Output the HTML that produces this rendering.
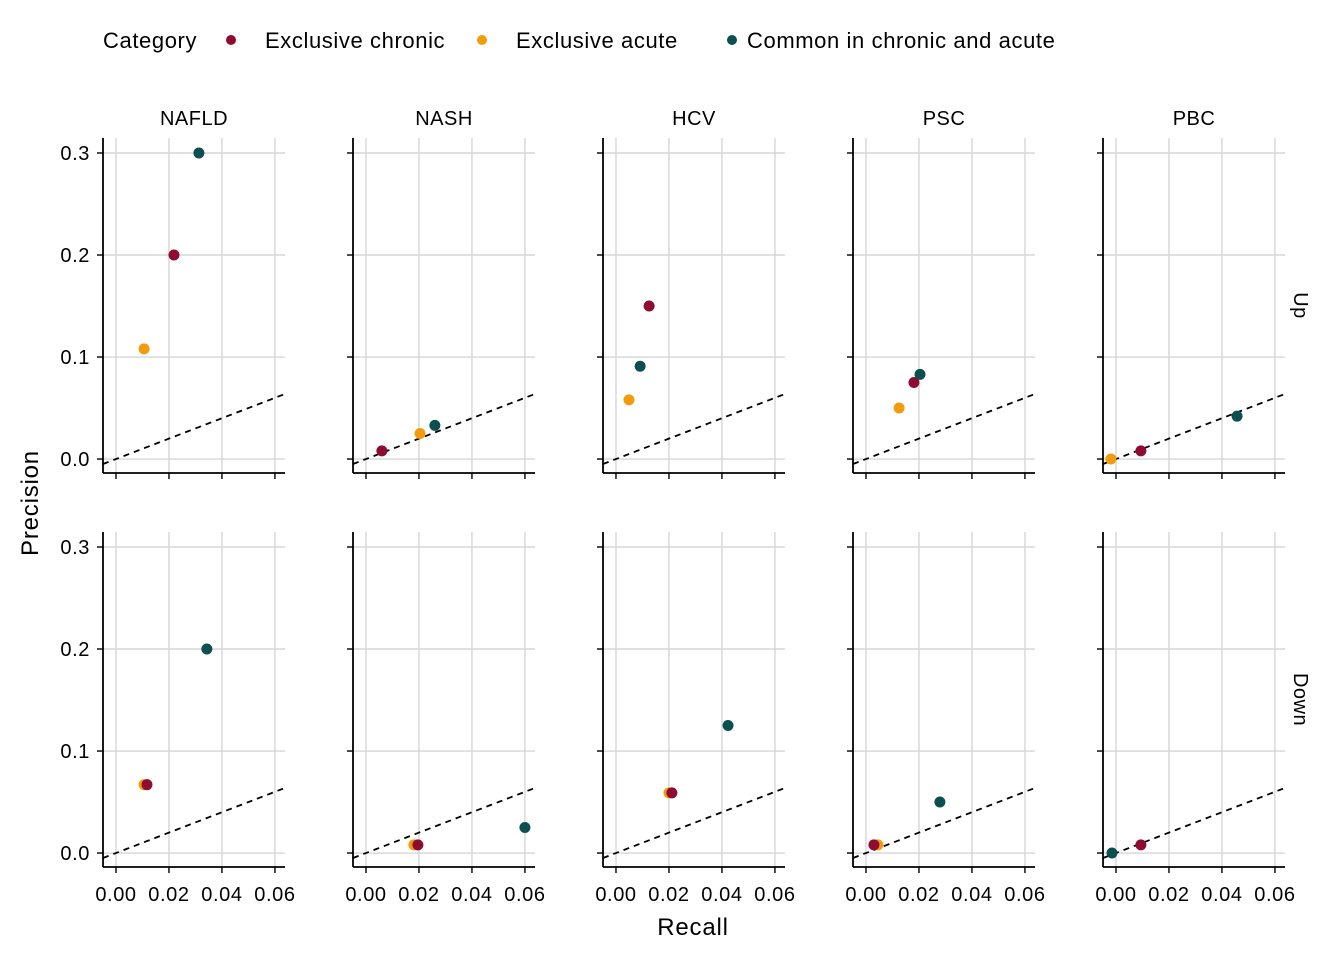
<!DOCTYPE html>
<html><head><meta charset="utf-8">
<style>
html,body{margin:0;padding:0;background:#fff;}
svg{display:block;font-family:"Liberation Sans",Arial,sans-serif;}
</style></head>
<body>
<svg id="chart" width="1344" height="960" viewBox="0 0 1344 960" xmlns="http://www.w3.org/2000/svg">
<g font-size="22" letter-spacing="0.6">
<text x="103" y="48">Category</text>
<circle cx="231" cy="40" r="5" fill="#8E0C32"/>
<text x="265" y="48">Exclusive chronic</text>
<circle cx="482" cy="40" r="5" fill="#F29B0C"/>
<text x="516" y="48">Exclusive acute</text>
<circle cx="732" cy="40" r="5" fill="#0C4F50"/>
<text x="747" y="48">Common in chronic and acute</text>
</g>
<text x="693" y="935" font-size="24" letter-spacing="0.8" text-anchor="middle">Recall</text>
<text transform="translate(38,503) rotate(-90)" font-size="24" letter-spacing="0.8" text-anchor="middle">Precision</text>
<g id="panels"></g>
</svg>
<script>
const diseases = ["NAFLD","NASH","HCV","PSC","PBC"];
const directions = ["Up","Down"];
const categories = ["Exclusive acute","Exclusive chronic","Common in chronic and acute"];
const xTicks = [0,0.02,0.04,0.06];
const xTickLabels = ["0.00","0.02","0.04","0.06"];
const yTicks = [0,0.1,0.2,0.3];
const yTickLabels = ["0.0","0.1","0.2","0.3"];
const recallUp = [[0.0106,0.0219,0.0313],[0.0204,0.006,0.026],[0.0049,0.0125,0.0091],[0.0125,0.0181,0.0204],[-0.0019,0.0094,0.0457]];
const precisionUp = [[0.108,0.2,0.3],[0.025,0.008,0.033],[0.058,0.15,0.091],[0.05,0.075,0.083],[0,0.008,0.042]];
const recallDown = [[0.0106,0.0117,0.0343],[0.0181,0.0196,0.06],[0.02,0.0211,0.0423],[0.0045,0.003,0.0279],[null,0.0094,-0.0015]];
const precisionDown = [[0.067,0.067,0.2],[0.008,0.008,0.025],[0.059,0.059,0.125],[0.008,0.008,0.05],[null,0.008,0]];
const colors = ["#F29B0C","#8E0C32","#0C4F50"];

const NS="http://www.w3.org/2000/svg";
const g=document.getElementById('panels');
function mk(tag,attrs,parent){const e=document.createElementNS(NS,tag);for(const k in attrs)e.setAttribute(k,attrs[k]);(parent||g).appendChild(e);return e;}
const xMin=-0.0049,xMax=0.0638,pw=182;
const yMin=-0.0137,yMax=0.3147;
const rowTop=[138,532],ph=335;
function sx(c,v){return 103+c*250+(v-xMin)/(xMax-xMin)*pw;}
function sy(r,v){return rowTop[r]+ph-(v-yMin)/(yMax-yMin)*ph;}

directions.forEach((dir,r)=>{
  const R=r===0?recallUp:recallDown, P=r===0?precisionUp:precisionDown;
  diseases.forEach((d,c)=>{
    const pg=mk('g',{});
    
    
    const L=103+c*250, B=rowTop[r]+ph;
    xTicks.forEach((t,i)=>{
      const x=sx(c,t);
      const gl=mk('line',{x1:x,x2:x,y1:rowTop[r],y2:B,stroke:'#d6d6d6','stroke-width':1.4},pg);
      
      
      mk('line',{x1:x,x2:x,y1:B,y2:B+6,stroke:'#000','stroke-width':1.4},pg);
      if(r===1){
        const tl=mk('text',{x:x,y:B+34,'font-size':20,'letter-spacing':0.6,'text-anchor':'middle'},pg);
        tl.textContent=xTickLabels[i];
        
        
      }
    });
    yTicks.forEach((t,i)=>{
      const y=sy(r,t);
      const gl=mk('line',{x1:L,x2:L+pw,y1:y,y2:y,stroke:'#d6d6d6','stroke-width':1.4},pg);
      
      
      mk('line',{x1:L-6,x2:L,y1:y,y2:y,stroke:'#000','stroke-width':1.4},pg);
      if(c===0){
        const tl=mk('text',{x:L-13,y:y+7,'font-size':20,'letter-spacing':0.6,'text-anchor':'end'},pg);
        tl.textContent=yTickLabels[i];
        
        
      }
    });
    const dl=mk('line',{x1:sx(c,xMin),y1:sy(r,xMin),x2:sx(c,xMax),y2:sy(r,xMax),stroke:'#000','stroke-width':1.8,'stroke-dasharray':'6,5'},pg);
    
    
    mk('line',{x1:L,x2:L,y1:rowTop[r],y2:B,stroke:'#000','stroke-width':1.8},pg);
    mk('line',{x1:L,x2:L+pw,y1:B,y2:B,stroke:'#000','stroke-width':1.8},pg);
    categories.forEach((cat,k)=>{
      if(R[c][k]===null)return;
      const pt=mk('circle',{cx:sx(c,R[c][k]),cy:sy(r,P[c][k]),r:5.5,fill:colors[k]},pg);
      
      
    });
    if(r===0){
      const st=mk('text',{x:L+pw/2,y:125,'font-size':20,'letter-spacing':0.5,'text-anchor':'middle'});
      st.textContent=d;
      
      
    }
  });
  const rl=mk('text',{transform:'translate(1294,'+(rowTop[r]+ph/2)+') rotate(90)','font-size':20,'letter-spacing':0.5,'text-anchor':'middle'});
  rl.textContent=dir;
  
  
});
</script>
</body></html>
